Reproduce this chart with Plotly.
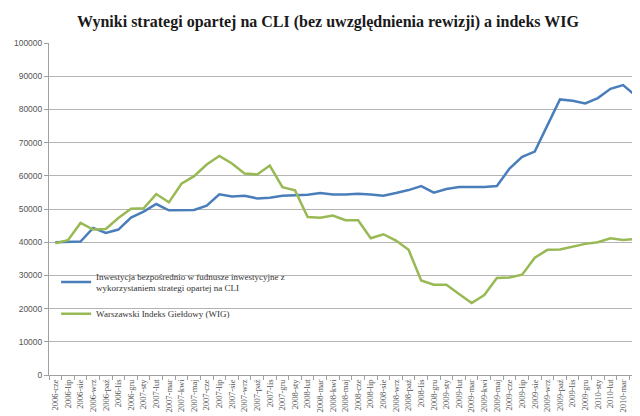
import plotly.graph_objects as go

months = ["sty", "lut", "mar", "kwi", "maj", "cze", "lip", "sie", "wrz", "paź", "lis", "gru"]
categories = (
    [f"2006-{m}" for m in months[5:]]
    + [f"2007-{m}" for m in months]
    + [f"2008-{m}" for m in months]
    + [f"2009-{m}" for m in months]
    + [f"2010-{m}" for m in months[:4]]
)

cli_strategy = [
    40000, 40200, 40200, 44300, 42800, 43800, 47400, 49200, 51500, 49600,
    49600, 49700, 51000, 54400, 53800, 54000, 53200, 53400, 54000, 54200,
    54300, 54800, 54400, 54400, 54600, 54400, 54000, 54800, 55700, 56900,
    54900, 56000, 56600, 56600, 56600, 56900, 62200, 65700, 67300, 75200,
    83000, 82600, 81800, 83400, 86200, 87300, 84100,
]

wig = [
    39700, 40600, 45800, 43800, 44000, 47300, 50100, 50200, 54500, 52000,
    57600, 59900, 63400, 66000, 63700, 60700, 60400, 63100, 56600, 55600,
    47600, 47400, 48000, 46600, 46600, 41200, 42400, 40500, 37700, 28500,
    27200, 27200, 24400, 21700, 24100, 29200, 29400, 30200, 35300, 37700,
    37800, 38600, 39500, 40000, 41200, 40700, 41000,
]

series_names = [
    "Inwestycja bezpośrednio w fudnusze inwestycyjne z<br>wykorzystaniem strategi opartej na CLI",
    "Warszawski Indeks Giełdowy (WIG)",
]

y_ticks = list(range(0, 100001, 10000))

fig = go.Figure()
fig.add_trace(go.Scatter(
    x=categories, y=cli_strategy, mode="lines", name=series_names[0],
    line=dict(color="#4a7ebb", width=2.5), legendgroup="a",
))
fig.add_trace(go.Scatter(
    x=categories, y=wig, mode="lines", name=series_names[1],
    line=dict(color="#98b954", width=2.5), legendgroup="b",
))

fig.update_layout(
    width=640, height=416,
    margin=dict(l=35, r=6, t=35, b=49),
    paper_bgcolor="white", plot_bgcolor="white",
    title=dict(
        text="<b>Wyniki strategi opartej na CLI (bez uwzględnienia rewizji) a indeks WIG</b>",
        x=0.5, xanchor="center", y=0.968, yanchor="middle",
        font=dict(family="Liberation Serif", size=16, color="#1a1a1a"),
    ),
    legend=dict(
        x=0.012, xanchor="left", y=0.335, yanchor="top",
        bgcolor="rgba(0,0,0,0)", traceorder="grouped", tracegroupgap=9,
        font=dict(family="Liberation Serif", size=9, color="#333333"),
        itemwidth=30,
    ),
    showlegend=True,
)

fig.update_xaxes(
    type="category", categoryorder="array", categoryarray=categories,
    range=[-0.5, len(categories) - 0.5],
    tickmode="array", tickvals=categories, ticktext=categories,
    tickangle=-90, tickson="boundaries", ticks="outside", ticklen=4,
    tickcolor="#a0a0a0", showgrid=False,
    showline=True, linecolor="#a0a0a0", linewidth=1,
    tickfont=dict(family="Liberation Serif", size=8.5, color="#555555"),
)
fig.update_yaxes(
    range=[0, 100000], tickvals=y_ticks, ticktext=[str(v) for v in y_ticks],
    showgrid=True, gridcolor="#b4b4b4", gridwidth=1,
    ticks="outside", ticklen=4, tickcolor="#a0a0a0",
    showline=True, linecolor="#a0a0a0", linewidth=1,
    zeroline=False,
    tickfont=dict(family="Liberation Sans", size=8.5, color="#555555"),
)

fig.write_html("out.html")
